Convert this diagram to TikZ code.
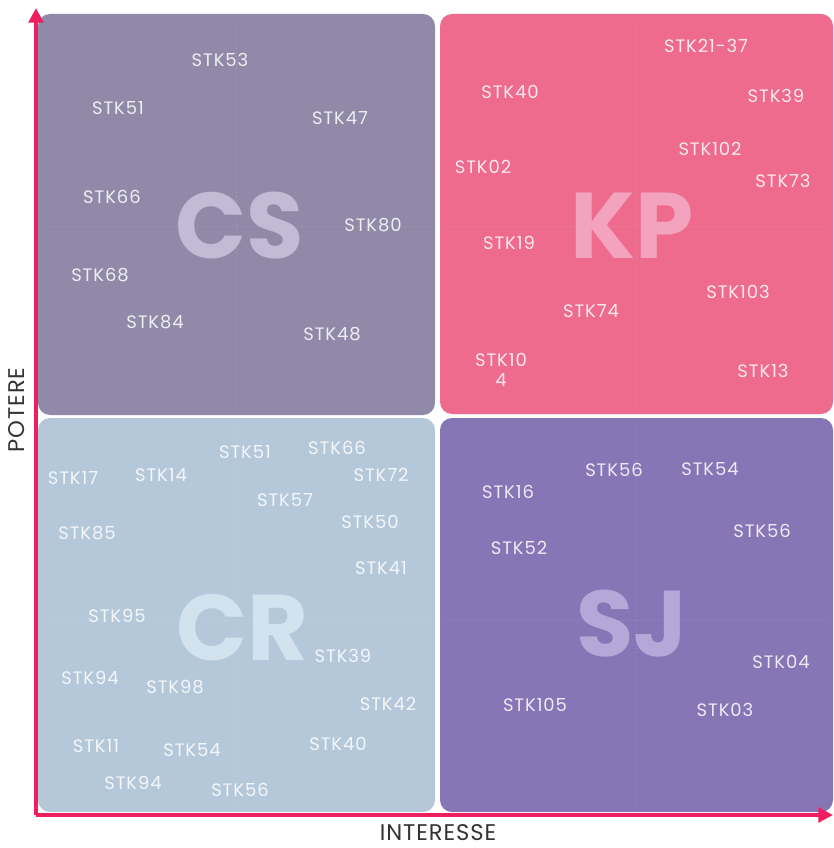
\documentclass[tikz,border=0pt]{standalone}
\usepackage{fontspec}
\setmainfont{Poppins}
\usetikzlibrary{arrows.meta}
\definecolor{csfill}{HTML}{9089A8}
\definecolor{kpfill}{HTML}{EE6B8E}
\definecolor{crfill}{HTML}{B4C8DA}
\definecolor{sjfill}{HTML}{8676B6}
\definecolor{csbig}{HTML}{C3BBD6}
\definecolor{kpbig}{HTML}{F4A3BE}
\definecolor{crbig}{HTML}{D2E2EF}
\definecolor{sjbig}{HTML}{B5A8D9}
\definecolor{axis}{HTML}{EE1F5E}
\definecolor{axtext}{HTML}{333333}
\newfontfamily\labfont{Poppins}[LetterSpace=5]
\newfontfamily\axfont{Poppins}[LetterSpace=4]
\tikzset{
  quad/.style={rounded corners=9pt, draw=none},
  guide/.style={white, opacity=0.18, dash pattern=on 1pt off 2pt, line width=0.6pt},
  big/.style={font=\fontsize{70}{70}\selectfont\bfseries, inner sep=0pt},
  lab/.style={text=white, text opacity=0.85, font=\labfont\fontsize{13.5}{15}\selectfont, inner sep=0pt, align=center},
  axisline/.style={axis, line width=2.6pt, -{Triangle[length=11pt,width=11pt]}},
  axlab/.style={text=axtext, font=\axfont\fontsize{17}{17}\selectfont, inner sep=0pt}
}
\begin{document}
\begin{tikzpicture}[x=0.75pt,y=-0.75pt]
\useasboundingbox (0,0) rectangle (833,848);
% quadrants
\path[quad, fill=csfill] (38,14) rectangle (435,415);
\path[quad, fill=kpfill] (440,14) rectangle (833,414);
\path[quad, fill=crfill] (38,418) rectangle (435,812);
\path[quad, fill=sjfill] (440,418) rectangle (833,812);
% faint guides
\draw[guide] (236,20) -- (236,410); \draw[guide] (45,226) -- (430,226);
\draw[guide] (636,20) -- (636,408); \draw[guide] (446,226) -- (828,226);
\draw[guide] (236,424) -- (236,806); \draw[guide] (45,620) -- (430,620);
\draw[guide] (636,424) -- (636,806); \draw[guide] (446,620) -- (828,620);
% big letters
\node[big, text=csbig] (cs) at (240,226) {CS};
\node[big, text=kpbig] (kp) at (632,226) {KP};
\node[big, text=crbig] (cr) at (242,628) {CR};
\node[big, text=sjbig] (sj) at (632,624) {SJ};
% CS labels
\foreach \n/\x/\y/\t in {a1/220/60/STK53, a2/118/108/STK51, a3/340/118/STK47, a4/112/197/STK66, a5/373/225/STK80, a6/100/275/STK68, a7/155/322/STK84, a8/332/334/STK48}
  \node[lab] (\n) at (\x,\y) {\t};
% KP labels
\foreach \n/\x/\y/\t in {b1/706/46/STK21-37, b2/510/92/STK40, b3/776/96/STK39, b4/710/149/STK102, b5/483/167/STK02, b6/783/181/STK73, b7/509/243/STK19, b8/738/292/STK103, b9/591/311/STK74, b11/763/371/STK13}
  \node[lab] (\n) at (\x,\y) {\t};
\node[lab] (b10) at (501,370) {STK10\\4};
% CR labels
\foreach \n/\x/\y/\t in {c1/245/452/STK51, c2/337/448/STK66, c3/73/478/STK17, c4/161/475/STK14, c5/381/475/STK72, c6/285/500/STK57, c7/370/522/STK50, c8/87/533/STK85, c9/381/568/STK41, c10/117/616/STK95, c11/343/656/STK39, c12/90/678/STK94, c13/175/687/STK98, c14/388/704/STK42, c15/96/746/STK11, c16/192/750/STK54, c17/338/744/STK40, c18/133/783/STK94, c19/240/790/STK56}
  \node[lab] (\n) at (\x,\y) {\t};
% SJ labels
\foreach \n/\x/\y/\t in {d1/614/470/STK56, d2/710/469/STK54, d3/508/492/STK16, d4/762/531/STK56, d5/519/548/STK52, d6/781/662/STK04, d7/535/705/STK105, d8/725/710/STK03}
  \node[lab] (\n) at (\x,\y) {\t};
% axes
\coordinate (o) at (36,815);
\coordinate (ytop) at (36,8);
\coordinate (xend) at (833,815);
\draw[axisline] (o) -- (ytop);
\draw[axisline] (o) -- (xend);
\node[axlab, rotate=90] (pot) at (17,410) {POTERE};
\node[axlab] (int) at (438,833) {INTERESSE};
\end{tikzpicture}
\end{document}
